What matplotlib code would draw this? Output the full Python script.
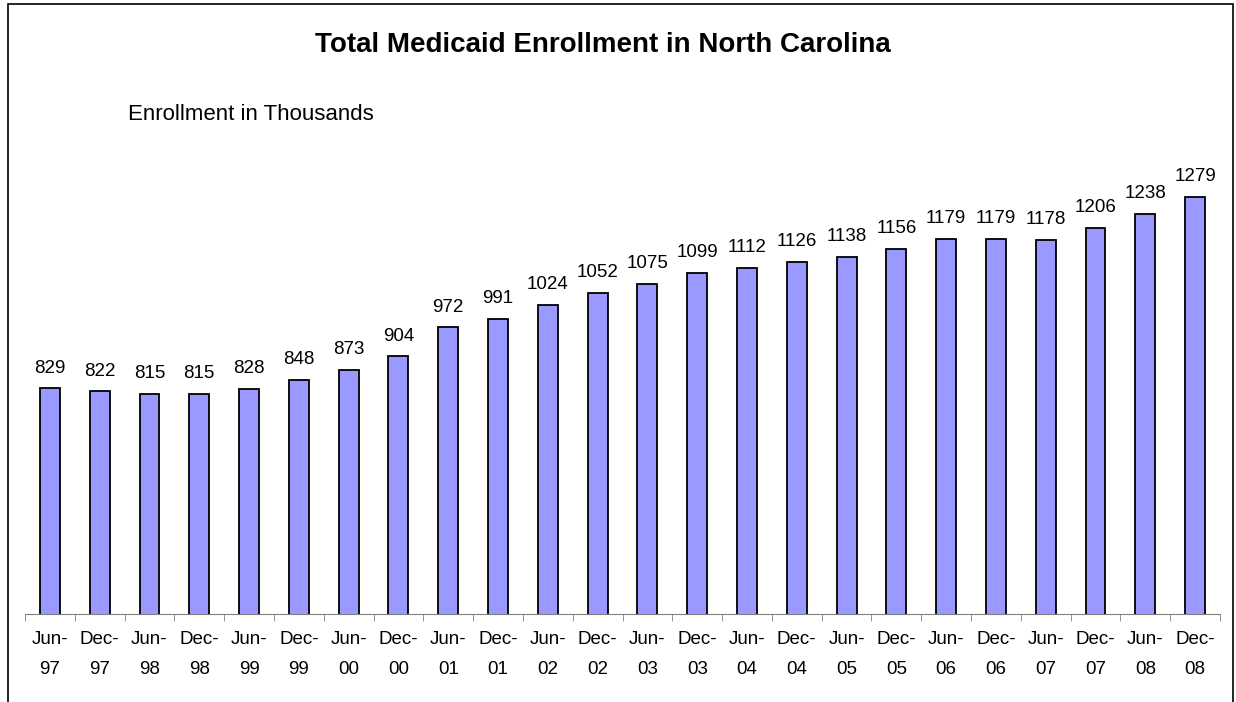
import numpy as np
import matplotlib.pyplot as plt
from matplotlib.patches import Rectangle

plt.rcParams['font.family'] = ['Liberation Sans', 'DejaVu Sans']

months = ['Jun-\n97', 'Dec-\n97', 'Jun-\n98', 'Dec-\n98', 'Jun-\n99', 'Dec-\n99',
          'Jun-\n00', 'Dec-\n00', 'Jun-\n01', 'Dec-\n01', 'Jun-\n02', 'Dec-\n02',
          'Jun-\n03', 'Dec-\n03', 'Jun-\n04', 'Dec-\n04', 'Jun-\n05', 'Dec-\n05',
          'Jun-\n06', 'Dec-\n06', 'Jun-\n07', 'Dec-\n07', 'Jun-\n08', 'Dec-\n08']
enrollment = [829, 822, 815, 815, 828, 848, 873, 904, 972, 991, 1024, 1052,
              1075, 1099, 1112, 1126, 1138, 1156, 1179, 1179, 1178, 1206, 1238, 1279]

W, H = 1236, 702
fig = plt.figure(figsize=(W/100, H/100), dpi=100)
# outer chart border
fig.patches.append(Rectangle((8/W, -0.05), (1233-8)/W, 1.05 - 4/H, transform=fig.transFigure,
                             fill=False, edgecolor='black', linewidth=1.2))

top_px = 145
ax = fig.add_axes([25/W, (H-614)/H, (1220-25)/W, (614-top_px)/H])
x = np.arange(len(enrollment))
ax.bar(x, enrollment, width=0.4, color='#9999FF', edgecolor='black', linewidth=1.3, zorder=3)
ax.set_xlim(-0.5, len(enrollment)-0.5)
ax.set_ylim(300, 1400)

for xi, v in zip(x, enrollment):
    ax.text(xi, v + 28, str(v), ha='center', va='bottom', fontsize=13.5)

for s in ['left', 'right', 'top']:
    ax.spines[s].set_visible(False)
ax.spines['bottom'].set_color('#808080')
ax.set_yticks([])
ax.set_xticks(x)
ax.set_xticklabels(months, fontsize=13.5, linespacing=2.0)
ax.tick_params(axis='x', which='major', length=0, pad=12)
ax.set_xticks(np.arange(-0.5, len(enrollment)), minor=True)
ax.tick_params(axis='x', which='minor', length=5, color='#808080', direction='out')

fig.text(603/W, 1 - 45/H, 'Total Medicaid Enrollment in North Carolina', ha='center', va='center',
         fontsize=20, fontweight='bold')
fig.text(128/W, 1 - 115/H, 'Enrollment in Thousands', ha='left', va='center', fontsize=16)

fig.savefig('out.png', dpi=100)
